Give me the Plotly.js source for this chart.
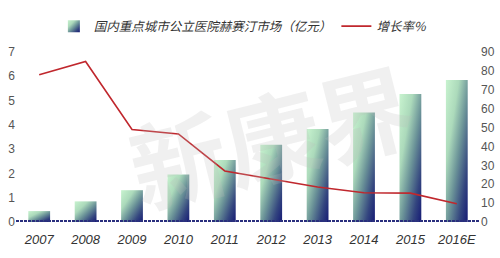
<!DOCTYPE html>
<html>
<head>
<meta charset="utf-8">
<script src="https://cdn.plot.ly/plotly-3.0.1.min.js"></script>
<style>html,body{margin:0;padding:0;background:#fff;}#chart{width:500px;height:258px;}</style>
</head>
<body>
<div id="chart"></div>
<script>
const years = ["2007","2008","2009","2010","2011","2012","2013","2014","2015","2016E"];
const marketValues = [0.45, 0.85, 1.31, 1.96, 2.55, 3.18, 3.83, 4.51, 5.27, 5.85];
const growthRates = [78, 85, 49, 46.6, 27, 22.7, 18.5, 15.5, 15.3, 9.7];
const barName = "国内重点城市公立医院赫赛汀市场（亿元）";
const lineName = "增长率%";
const leftTicks = [0,1,2,3,4,5,6,7];
const rightTicks = [0,10,20,30,40,50,60,70,80,90];

const numFont = {family: "Liberation Sans, Arial, sans-serif", size: 12, color: "#555"};

const traces = [
  {type: "bar", x: years, y: marketValues, name: barName, yaxis: "y",
   width: 0.47, marker: {color: "#6f9c98", line: {width: 0}}, hoverinfo: "skip"},
  {type: "scatter", mode: "lines", x: years, y: growthRates, name: lineName, yaxis: "y2",
   line: {color: "#c0272d", width: 1.6}, hoverinfo: "skip"}
];

const layout = {
  width: 500, height: 258,
  margin: {l: 16, r: 20, t: 40, b: 36},
  paper_bgcolor: "#fff", plot_bgcolor: "rgba(0,0,0,0)",
  showlegend: true,
  legend: {orientation: "h", x: 0.49, xanchor: "center", y: 1.15, yanchor: "middle",
           font: {family: "Noto Sans CJK SC, sans-serif", size: 12.5, color: "#333", style: "italic"},
           itemwidth: 30, traceorder: "normal", bgcolor: "rgba(0,0,0,0)"},
  xaxis: {type: "category", range: [-0.5, 9.5], showgrid: false, zeroline: false, showline: false,
          ticks: "", tickfont: {family: "Liberation Sans, Arial, sans-serif", size: 13, color: "#333", style: "italic"},
          ticklabelstandoff: 8, fixedrange: true},
  yaxis: {range: [0, 7], tickvals: leftTicks, showgrid: false, zeroline: false, showline: false,
          ticks: "", tickfont: numFont, automargin: false, fixedrange: true},
  yaxis2: {range: [0, 90], tickvals: rightTicks, overlaying: "y", side: "right", showgrid: false,
           zeroline: false, showline: false, ticks: "", tickfont: numFont, automargin: false, fixedrange: true},
  shapes: [{type: "line", xref: "paper", yref: "y", x0: 0, x1: 1, y0: 0, y1: 0,
            line: {color: "#2a2f7e", width: 4, dash: "3px,1px"}, layer: "above"}],
  annotations: [{text: "<b>新康界</b>", xref: "paper", yref: "paper", x: 0.55, y: 0.52, showarrow: false,
                 textangle: -14, font: {family: "Noto Sans CJK SC, sans-serif", size: 96, color: "rgba(185,185,185,0.22)"}}]
};

Plotly.newPlot("chart", traces, layout, {displayModeBar: false, staticPlot: true}).then(gd => {
  const svg = gd.querySelector("svg.main-svg");
  const ns = "http://www.w3.org/2000/svg";
  let defs = svg.querySelector("defs");
  if (!defs) { defs = document.createElementNS(ns, "defs"); svg.insertBefore(defs, svg.firstChild); }
  const g = document.createElementNS(ns, "linearGradient");
  g.setAttribute("id", "barGrad");
  g.setAttribute("x1", "0"); g.setAttribute("y1", "0"); g.setAttribute("x2", "1"); g.setAttribute("y2", "1");
  [["0", "#c8f3cf"], ["0.3", "#acdabb"], ["0.55", "#6b9398"], ["0.8", "#34467f"], ["1", "#151a75"]].forEach(([o, c]) => {
    const s = document.createElementNS(ns, "stop");
    s.setAttribute("offset", o); s.setAttribute("stop-color", c);
    g.appendChild(s);
  });
  defs.appendChild(g);
  gd.querySelectorAll(".bars .point path, .legend .legendpoints path.legendundefined, .legend .trace.bars path").forEach(p => {
    p.style.fill = "url(#barGrad)";
  });
});
</script>
</body>
</html>
